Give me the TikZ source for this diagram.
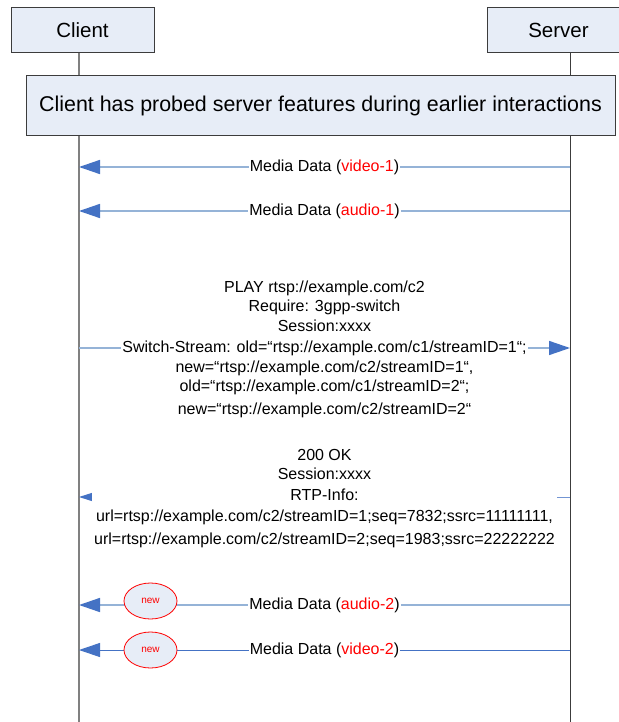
\documentclass[tikz,border=0pt]{standalone}
\usepackage{fontspec}
\setmainfont{Liberation Sans}
\usetikzlibrary{arrows.meta,shapes.geometric}
\definecolor{boxfill}{HTML}{E7EDF7}
\definecolor{boxborder}{HTML}{3C3C3C}
\definecolor{lightline}{HTML}{95B3D7}
\definecolor{headblue}{HTML}{4472C4}
\definecolor{lifegrey}{HTML}{808080}
\definecolor{redtxt}{HTML}{FF0000}
\begin{document}
\begin{tikzpicture}[x=1pt,y=-1pt,
  hdr/.style={draw=boxborder, fill=boxfill, line width=1pt, inner sep=0pt,
    minimum width=143pt, minimum height=45pt, font=\fontsize{20.5}{24}\selectfont},
  banner/.style={draw=boxborder, fill=boxfill, line width=1pt, inner sep=0pt,
    minimum width=589pt, minimum height=60pt, font=\fontsize{21.4}{25}\selectfont},
  lifeC/.style={draw=lifegrey, line width=1.5pt},
  lifeS/.style={draw=boxborder, line width=1pt},
  msgline/.style={draw=lightline, line width=1.5pt},
  darkline/.style={draw=headblue, line width=1pt},
  bighead/.style={-{Triangle[length=21pt,width=14pt,color=headblue]}},
  smallhead/.style={-{Triangle[length=13pt,width=8pt,color=headblue]}},
  lbl/.style={font=\fontsize{16}{19}\selectfont, inner sep=1pt, fill=white},
  txt/.style={font=\fontsize{16}{19}\selectfont, inner sep=0pt, anchor=base},
  newel/.style={ellipse, draw=redtxt, fill=boxfill, line width=0.8pt, inner sep=0pt,
    minimum width=53pt, minimum height=36pt, text=redtxt, font=\fontsize{10}{12}\selectfont}
]
\useasboundingbox (0,0) rectangle (618,722);
\fill[white] (0,0) rectangle (618,722);

% lifelines
\coordinate (cTop) at (79,53);
\coordinate (cBot) at (79,722);
\coordinate (sTop) at (570,53);
\coordinate (sBot) at (570,722);
\draw[lifeC] (cTop) -- (cBot);
\draw[lifeS] (sTop) -- (sBot);

% headers
\node[hdr] (client) at (82.5,30.5) {Client};
\node[hdr] (server) at (558.5,30.5) {Server};
\node[banner] (probe) at (320.5,106) {Client has probed server features during earlier interactions};

% media data 1
\coordinate (c1) at (79,167); \coordinate (s1) at (570,167);
\draw[msgline,bighead] (s1) -- node[lbl] (m1) {Media Data (\textcolor{redtxt}{video-1})} (c1);
\coordinate (c2) at (79,211); \coordinate (s2) at (570,211);
\draw[msgline,bighead] (s2) -- node[lbl] (m2) {Media Data (\textcolor{redtxt}{audio-1})} (c2);

% PLAY
\coordinate (c3) at (79,348); \coordinate (s3) at (570,348);
\draw[msgline,bighead] (c3) -- (s3);
\node[txt] (p1) at (324.5,292) {PLAY rtsp://example.com/c2};
\node[txt] (p2) at (324.5,311) {Require: 3gpp-switch};
\node[txt] (p3) at (324.5,331) {Session:xxxx};
\node[txt,fill=white,inner sep=1pt] (p4) at (324.5,352) {Switch-Stream: old=“rtsp://example.com/c1/streamID=1“;};
\node[txt] (p5) at (324.5,372) {new=“rtsp://example.com/c2/streamID=1“,};
\node[txt] (p6) at (324.5,391) {old=“rtsp://example.com/c1/streamID=2“;};
\node[txt] (p7) at (324.5,414) {new=“rtsp://example.com/c2/streamID=2“};

% 200 OK
\coordinate (c4) at (79,497); \coordinate (s4) at (570,497);
\draw[draw=headblue!75, line width=1pt, smallhead] (s4) -- (c4);
\node[txt,fill=white,inner xsep=0pt,inner ysep=1pt,minimum width=465pt] (r3) at (324.5,500) {RTP-Info:};
\node[txt] (r1) at (324.5,460) {200 OK};
\node[txt] (r2) at (324.5,479) {Session:xxxx};
\node[txt] (r4) at (324.5,521) {url=rtsp://example.com/c2/streamID=1;seq=7832;ssrc=11111111,};
\node[txt] (r5) at (324.5,544) {url=rtsp://example.com/c2/streamID=2;seq=1983;ssrc=22222222};

% media data 2
\coordinate (c5) at (79,605); \coordinate (s5) at (570,605);
\draw[msgline,bighead] (s5) -- node[lbl] (m3) {Media Data (\textcolor{redtxt}{audio-2})} (c5);
\node[newel] (n1) at (150.5,601) {new};
\coordinate (c6) at (79,650); \coordinate (s6) at (570,650);
\draw[darkline,bighead] (s6) -- node[lbl] (m4) {Media Data (\textcolor{redtxt}{video-2})} (c6);
\node[newel] (n2) at (150.5,650) {new};
\end{tikzpicture}
\end{document}
